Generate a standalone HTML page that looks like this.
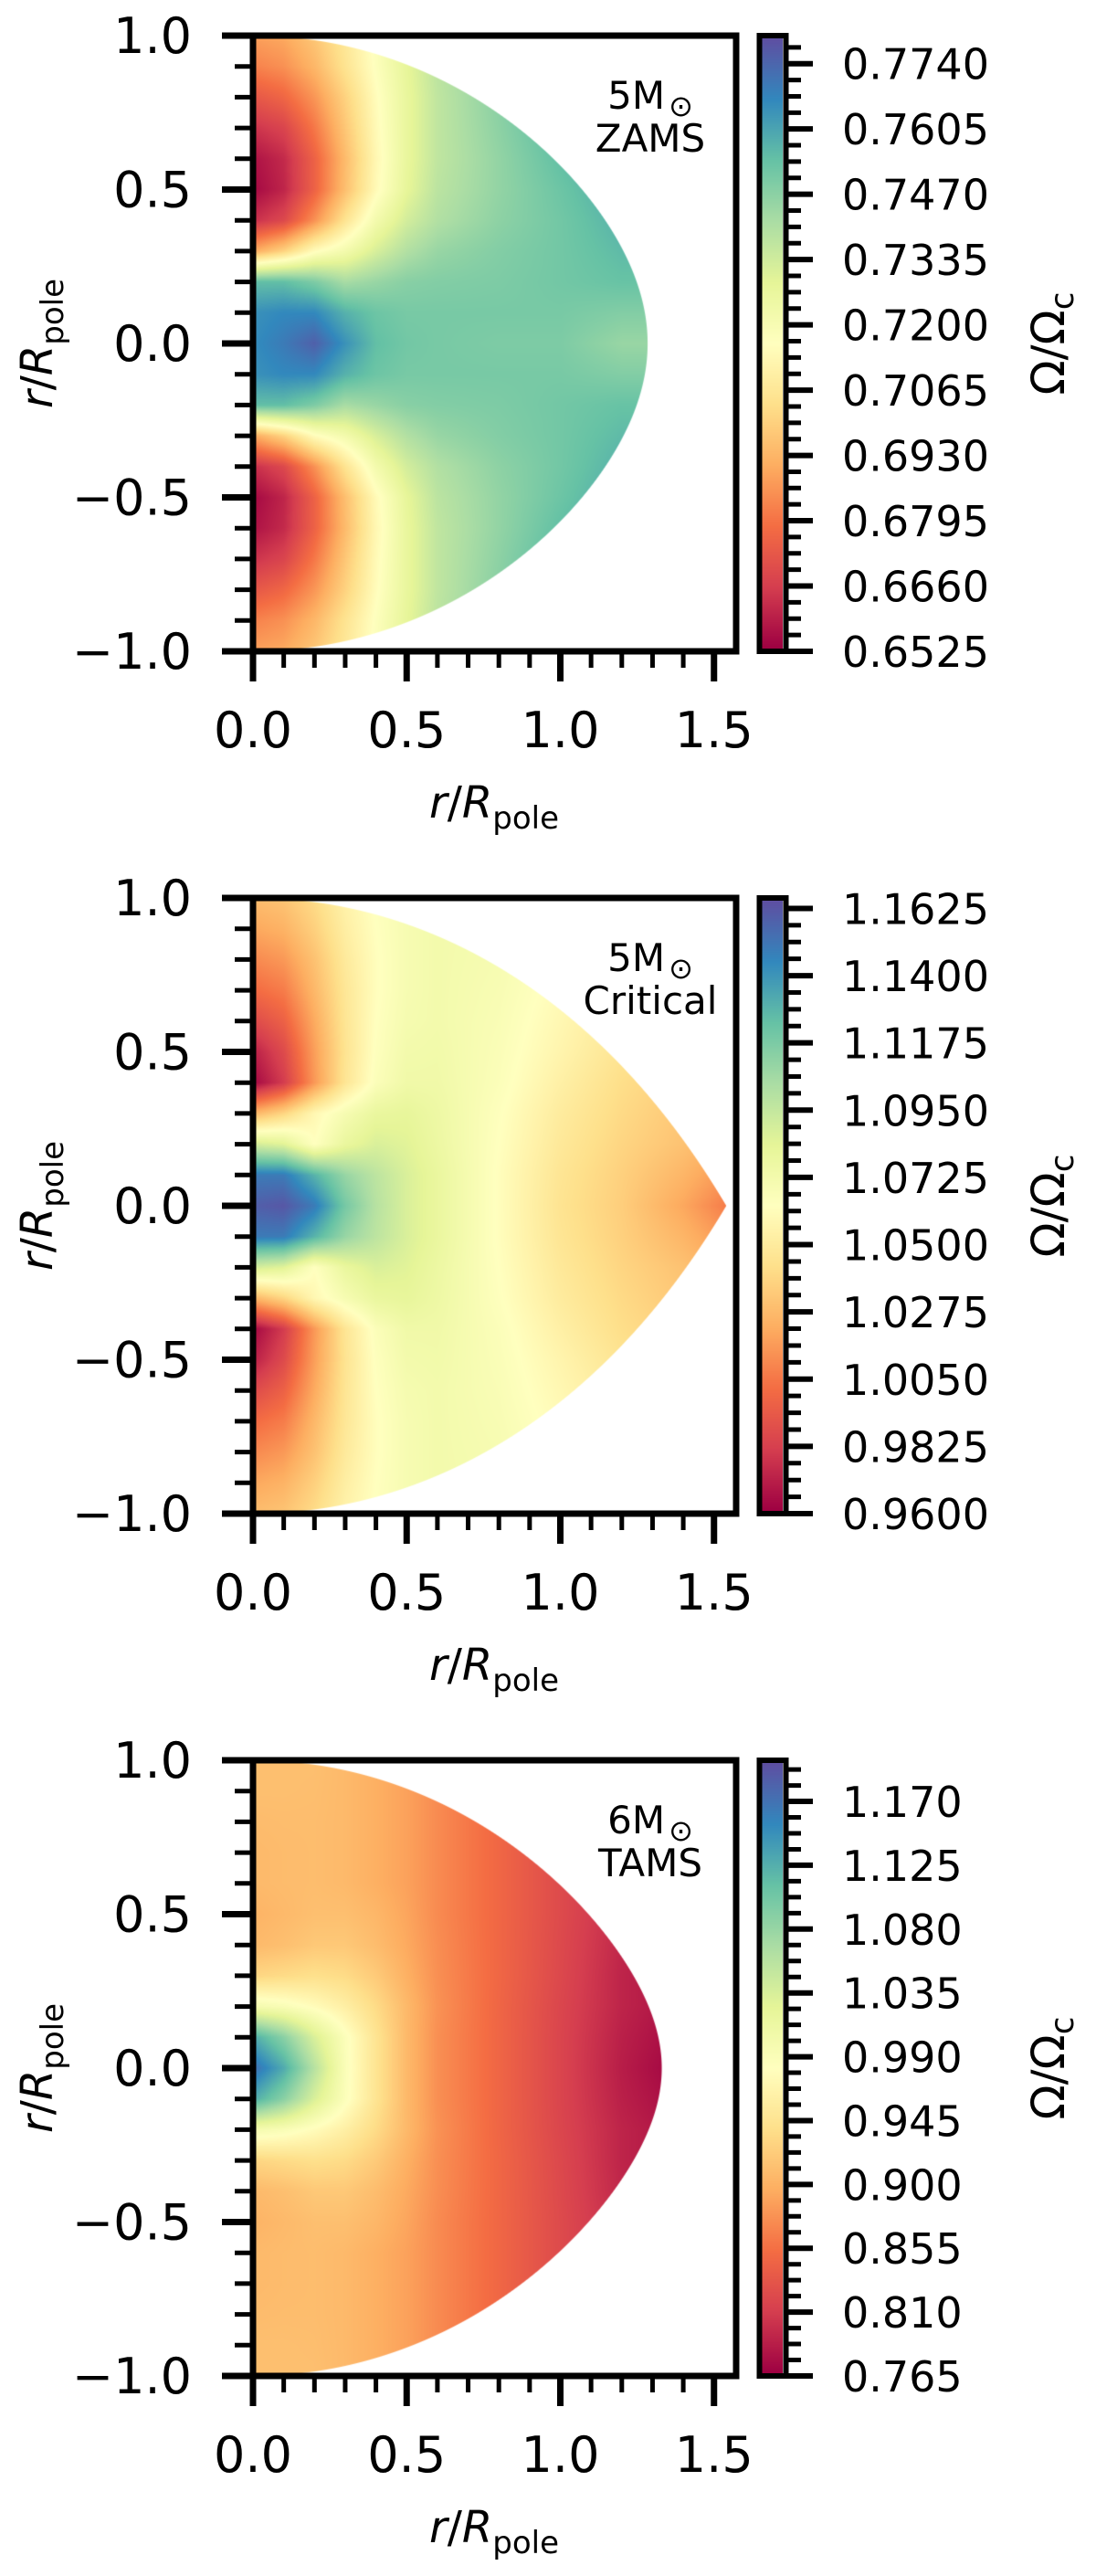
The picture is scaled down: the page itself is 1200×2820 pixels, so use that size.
<!DOCTYPE html>
<html><head><meta charset="utf-8"><style>
html,body{margin:0;padding:0;background:#fff;}
#wrap{position:relative;width:1200px;height:2820px;overflow:hidden;}
canvas{position:absolute;}
svg{position:absolute;left:0;top:0;}
text{font-family:"DejaVu Sans","Liberation Sans",sans-serif;fill:#000;}
</style></head><body>
<div id="wrap">
<canvas id="c0" width="529" height="674"></canvas>
<canvas id="c1" width="529" height="674"></canvas>
<canvas id="c2" width="529" height="674"></canvas>
<canvas id="b0" width="23" height="668"></canvas>
<canvas id="b1" width="23" height="668"></canvas>
<canvas id="b2" width="23" height="668"></canvas>
<svg id="ov" width="1200" height="2820" xmlns="http://www.w3.org/2000/svg"></svg>
</div>
<script>
// grid coordinates (r/R_pole units); rows mirrored about equator
const gridX = [0,0.1,0.2,0.3,0.4,0.5,0.6,0.8,1.0,1.2,1.4,1.6];
const gridY = [0,0.1,0.2,0.3,0.4,0.5,0.6,0.7,0.8,0.9,1.0];
const zamsValues = [
[0.766,0.770,0.776,0.765,0.755,0.752,0.751,0.750,0.750,0.745,0.745,0.745],
[0.765,0.767,0.767,0.758,0.753,0.751,0.751,0.751,0.751,0.749,0.749,0.749],
[0.755,0.755,0.750,0.742,0.745,0.748,0.749,0.750,0.752,0.754,0.754,0.754],
[0.690,0.700,0.715,0.722,0.732,0.740,0.745,0.749,0.752,0.756,0.756,0.756],
[0.662,0.668,0.685,0.705,0.722,0.733,0.740,0.747,0.752,0.758,0.758,0.758],
[0.654,0.660,0.675,0.695,0.714,0.728,0.738,0.746,0.753,0.760,0.760,0.760],
[0.656,0.661,0.675,0.694,0.713,0.727,0.737,0.746,0.755,0.762,0.762,0.762],
[0.663,0.667,0.680,0.697,0.714,0.727,0.737,0.747,0.757,0.763,0.763,0.763],
[0.672,0.676,0.686,0.700,0.715,0.727,0.737,0.748,0.758,0.764,0.764,0.764],
[0.682,0.685,0.693,0.705,0.717,0.728,0.738,0.749,0.758,0.764,0.764,0.764],
[0.688,0.690,0.697,0.707,0.718,0.729,0.739,0.749,0.758,0.764,0.764,0.764]];
const criticalValues = [
[1.160,1.163,1.150,1.120,1.100,1.088,1.080,1.062,1.045,1.035,1.020,1.000],
[1.150,1.150,1.130,1.110,1.098,1.088,1.080,1.062,1.046,1.036,1.025,1.010],
[1.090,1.085,1.063,1.080,1.088,1.085,1.078,1.063,1.048,1.038,1.030,1.020],
[1.025,1.038,1.058,1.070,1.080,1.082,1.077,1.064,1.050,1.040,1.032,1.025],
[0.962,0.980,1.015,1.046,1.066,1.075,1.075,1.066,1.053,1.042,1.035,1.030],
[0.970,0.986,1.017,1.045,1.064,1.073,1.074,1.067,1.056,1.045,1.038,1.035],
[0.986,0.996,1.021,1.046,1.063,1.071,1.073,1.068,1.058,1.048,1.040,1.035],
[1.000,1.006,1.026,1.047,1.062,1.070,1.073,1.069,1.060,1.050,1.042,1.035],
[1.010,1.015,1.030,1.049,1.062,1.070,1.073,1.070,1.062,1.052,1.045,1.040],
[1.020,1.024,1.036,1.052,1.063,1.070,1.073,1.071,1.063,1.054,1.047,1.040],
[1.028,1.031,1.041,1.055,1.064,1.070,1.073,1.071,1.064,1.055,1.048,1.040]];
const tamsValues = [
[1.175,1.130,1.060,0.990,0.945,0.905,0.875,0.845,0.815,0.785,0.765,0.765],
[1.130,1.090,1.035,0.988,0.945,0.905,0.875,0.845,0.815,0.787,0.770,0.770],
[1.000,0.992,0.978,0.960,0.935,0.905,0.877,0.845,0.816,0.790,0.775,0.775],
[0.930,0.935,0.940,0.935,0.920,0.898,0.875,0.846,0.818,0.790,0.775,0.775],
[0.905,0.910,0.918,0.918,0.908,0.893,0.874,0.846,0.819,0.792,0.780,0.780],
[0.900,0.905,0.910,0.910,0.903,0.890,0.872,0.846,0.820,0.795,0.780,0.780],
[0.905,0.907,0.908,0.905,0.897,0.887,0.872,0.846,0.820,0.795,0.780,0.780],
[0.905,0.907,0.908,0.905,0.897,0.887,0.872,0.846,0.820,0.795,0.780,0.780],
[0.907,0.908,0.908,0.905,0.897,0.887,0.872,0.846,0.820,0.795,0.780,0.780],
[0.910,0.910,0.909,0.905,0.897,0.887,0.872,0.846,0.820,0.795,0.780,0.780],
[0.910,0.910,0.910,0.905,0.897,0.887,0.872,0.846,0.820,0.795,0.780,0.780]];
const zamsTicks = ["0.6525","0.6660","0.6795","0.6930","0.7065","0.7200","0.7335","0.7470","0.7605","0.7740"];
const criticalTicks = ["0.9600","0.9825","1.0050","1.0275","1.0500","1.0725","1.0950","1.1175","1.1400","1.1625"];
const tamsTicks = ["0.765","0.810","0.855","0.900","0.945","0.990","1.035","1.080","1.125","1.170"];
const colorMin = [0.6525,0.96,0.765];
const colorMax = [0.7798,1.166,1.199];
const eqRadius = [1.284,1.54,1.33];
const massLabels = ["5","5","6"];
const stageLabels = ["ZAMS","Critical","TAMS"];
const axisTickValues = [-1,-0.5,0,0.5,1];
const axisTickLabels = ["\u22121.0","\u22120.5","0.0","0.5","1.0"];
const xTickValues = [0,0.5,1.0,1.5];
const xTickLabels = ["0.0","0.5","1.0","1.5"];

const spectral = [[158,1,66],[213,62,79],[244,109,67],[253,174,97],[254,224,139],[255,255,191],[230,245,152],[171,221,164],[102,194,165],[50,136,189],[94,79,162]];
function cmap(t){t=Math.max(0,Math.min(1,t));const f=t*10,i=Math.min(9,Math.floor(f)),u=f-i;const a=spectral[i],b=spectral[i+1];return [a[0]+(b[0]-a[0])*u,a[1]+(b[1]-a[1])*u,a[2]+(b[2]-a[2])*u];}
function idx(arr,v){if(v<=arr[0])return [0,0];for(let i=0;i<arr.length-1;i++){if(v<=arr[i+1])return [i,(v-arr[i])/(arr[i+1]-arr[i])];}return [arr.length-2,1];}
function sample(vals,x,y){const [i,u]=idx(gridX,x);const [j,v]=idx(gridY,Math.abs(y));
 const a=vals[j][i],b=vals[j][i+1],c=vals[j+1][i],d=vals[j+1][i+1];
 return a*(1-u)*(1-v)+b*u*(1-v)+c*(1-u)*v+d*u*v;}
function rocheF(w,s){const q=w*s;if(q<1e-4)return 1;return 3/q*Math.cos((Math.PI+Math.acos(Math.min(1,q)))/3);}
function solveW(req){let lo=0.01,hi=1;for(let k=0;k<60;k++){const m=(lo+hi)/2;if(rocheF(m,1)<req)lo=m;else hi=m;}return lo;}

const X0=277, SX=336.5, SY=337, PW=529, PH=674;
const tops=[39,983,1927];
const allVals=[zamsValues,criticalValues,tamsValues];
const allTicks=[zamsTicks,criticalTicks,tamsTicks];
function xPix(x){return X0+x*SX;}
function yPix(top,y){return top+(1-y)*SY;}

for(let p=0;p<3;p++){
 const cv=document.getElementById('c'+p);cv.style.left=X0+'px';cv.style.top=tops[p]+'px';
 const ctx=cv.getContext('2d');const img=ctx.createImageData(PW,PH);
 let w,k;if(eqRadius[p]>1.5){w=1;k=eqRadius[p]/1.5;}else{w=solveW(eqRadius[p]);k=1;}
 for(let py=0;py<PH;py++){const y=1-(py+0.5)/SY;
  for(let px=0;px<PW;px++){const x=(px+0.5)/SX;
   const xs=x/k;const r=Math.hypot(xs,y);const s=r>0?xs/r:0;const R=rocheF(w,s);
   const cov=Math.max(0,Math.min(1,(R-r)*SY+0.5));if(cov<=0)continue;
   const v=sample(allVals[p],x,y);const c=cmap((v-colorMin[p])/(colorMax[p]-colorMin[p]));
   const o=(py*PW+px)*4;img.data[o]=c[0];img.data[o+1]=c[1];img.data[o+2]=c[2];img.data[o+3]=255*cov;}}
 ctx.putImageData(img,0,0);
 const bc=document.getElementById('b'+p);bc.style.left='834px';bc.style.top=(tops[p]+3)+'px';
 const bx=bc.getContext('2d');
 for(let yy=0;yy<668;yy++){const c=cmap(1-yy/667);bx.fillStyle='rgb('+c.map(Math.round).join(',')+')';bx.fillRect(0,yy,23,1);}
}

const NS='http://www.w3.org/2000/svg';
const ov=document.getElementById('ov');
function el(tag,attrs,parent){const e=document.createElementNS(NS,tag);for(const a in attrs)e.setAttribute(a,attrs[a]);(parent||ov).appendChild(e);return e;}

for(let p=0;p<3;p++){
 const top=tops[p], bot=top+PH;
 const g=el('g',{});
 
 
 for(let m=-10;m<=10;m++){const y=m/10;const yp=yPix(top,y);const major=(m%5===0);
  const t=el('line',{x1:major?243:257,x2:X0,y1:yp,y2:yp,stroke:'#000','stroke-width':major?7:5},g);
  
  }
 axisTickValues.forEach((v,i)=>{const t=el('text',{x:210,y:yPix(top,v)+19,'text-anchor':'end','font-size':54},g);t.textContent=axisTickLabels[i];
  
  });
 for(let m=0;m<=15;m++){const xp=xPix(m/10);const major=(m%5===0);
  const t=el('line',{x1:xp,x2:xp,y1:bot,y2:major?bot+33:bot+18,stroke:'#000','stroke-width':major?7:5},g);
  
  }
 xTickValues.forEach((v,i)=>{const t=el('text',{x:xPix(v),y:bot+105,'text-anchor':'middle','font-size':54},g);t.textContent=xTickLabels[i];
  
  });
 const fr=el('rect',{x:X0,y:top,width:PW,height:PH,fill:'none',stroke:'#000','stroke-width':7},g);
 
 
 const xl=el('text',{x:541,y:bot+182,'text-anchor':'middle','font-size':48},g);
 xl.innerHTML='<tspan font-style="italic">r</tspan>/<tspan font-style="italic">R</tspan><tspan font-size="34" dy="12">pole</tspan>';
 
 
 const yl=el('text',{x:0,y:0,'text-anchor':'middle','font-size':48,transform:'translate(57,'+(top+337)+') rotate(-90)'},g);
 yl.innerHTML='<tspan font-style="italic">r</tspan>/<tspan font-style="italic">R</tspan><tspan font-size="34" dy="12">pole</tspan>';
 
 
 const a1=el('text',{x:712,y:top+80,'text-anchor':'middle','font-size':42},g);
 a1.innerHTML=massLabels[p]+'M<tspan font-size="32" dy="8" dx="4">\u2299</tspan>';
 
 
 const a2=el('text',{x:712,y:top+127,'text-anchor':'middle','font-size':42},g);
 a2.textContent=stageLabels[p];
 
 
 const cbTop=top, cbBot=bot, vmin=colorMin[p], vmax=colorMax[p];
 function cy(v){return cbBot-(v-vmin)/(vmax-vmin)*(cbBot-cbTop);}
 const ticks=allTicks[p];const step=(parseFloat(ticks[1])-parseFloat(ticks[0]));
 for(let m=0;m<=9*4+4;m++){const v=vmin+m*step/4;if(v>vmax)break;const yp=cy(v);const major=(m%4===0);
  const t=el('line',{x1:860,x2:major?890:877,y1:yp,y2:yp,stroke:'#000','stroke-width':major?6:5},g);
  
  }
 ticks.forEach(s=>{const t=el('text',{x:922,y:cy(parseFloat(s))+17,'font-size':46},g);t.textContent=s;
  
  });
 const cf=el('rect',{x:831.5,y:cbTop,width:29,height:PH,fill:'none',stroke:'#000','stroke-width':6},g);
 
 
 const cl=el('text',{x:0,y:0,'text-anchor':'middle','font-size':50,transform:'translate(1165,'+(top+337)+') rotate(-90)'},g);
 cl.innerHTML='\u03A9/\u03A9<tspan font-size="36" dy="10">c</tspan>';
 
 
}
</script>
</body></html>
